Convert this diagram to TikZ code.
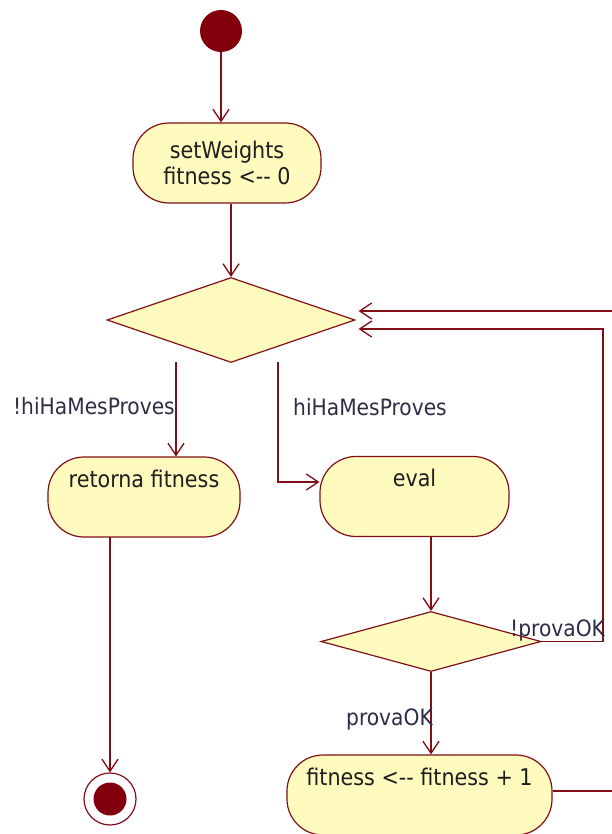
\documentclass[tikz,border=0pt]{standalone}
\usepackage{fontspec}
\setmainfont{DejaVu Sans Condensed}
\usetikzlibrary{shapes.geometric,arrows.meta,calc}
\definecolor{wire}{RGB}{128,16,24}
\definecolor{boxfill}{RGB}{255,250,190}
\definecolor{dotfill}{RGB}{130,0,12}
\definecolor{labelc}{RGB}{45,45,70}
\definecolor{inkc}{RGB}{30,30,30}
\begin{document}
\begin{tikzpicture}[x=1pt,y=-1pt,
  flow/.style={draw=wire,line width=1.3pt,-{Straight Barb[length=12pt,width=16pt]}},
  actbox/.style={draw=wire,line width=1.2pt,fill=boxfill,rounded corners=36pt,
    minimum height=80pt,inner sep=0pt,text=inkc,font=\fontsize{23}{26}\selectfont},
  onetext/.style={text height=15pt,text depth=35pt},
  choice/.style={diamond,draw=wire,line width=1.2pt,fill=boxfill,inner sep=0pt},
  guard/.style={text=labelc,font=\fontsize{22.5}{26}\selectfont,inner sep=0pt},
]
\clip (0,0) rectangle (612,834);
\fill[white] (0,0) rectangle (612,834);

% activity nodes
\node[circle,fill=dotfill,minimum size=42pt,inner sep=0pt] (start) at (221,31) {};
\node[actbox,minimum width=188pt,align=center] (setw) at (227,163)
  {setWeights\\fitness <-{}- 0};
\node[choice,minimum width=248pt,minimum height=85pt] (d1) at (231,320) {};
\node[actbox,onetext,minimum width=192pt] (ret) at (144,497) {retorna fitness};
\node[actbox,onetext,minimum width=189pt] (eval) at (414.5,496.5) {eval};
\node[choice,minimum width=220pt,minimum height=60pt] (d2) at (431,641.5) {};
\node[actbox,onetext,minimum width=265pt] (inc) at (419.5,795)
  {fitness <-{}- fitness + 1};
\node[circle,draw=wire,line width=1.2pt,fill=white,minimum size=52pt,inner sep=0pt] (end) at (110,799) {};
\node[circle,fill=dotfill,minimum size=33pt,inner sep=0pt] (endcore) at (end) {};

% branch points and loop corners
\coordinate (lfork) at (176,362);
\coordinate (rfork) at (278,362);
\coordinate (evalin) at ($(eval.west)+(0,-14.5)$);
\coordinate (retout) at (110,537);
\coordinate (loopA) at (603,329);
\coordinate (loopT) at (625,311);
\coordinate (d1inA) at ($(d1.east)+(3,-9)$);
\coordinate (d1inB) at ($(d1.east)+(3,9)$);
\coordinate (incout) at ($(inc.east)+(0,-4)$);

% connectors
\draw[flow] (start.south) -- (start.south |- setw.north);
\draw[flow] (d1.north |- setw.south) -- (d1.north);
\draw[flow] (lfork) -- (lfork |- ret.north);
\draw[flow] (rfork) |- (evalin);
\draw[flow] (retout) -- (end.north);
\draw[flow] (d2.north |- eval.south) -- (d2.north);
\draw[flow] (d2.south) -- (d2.south |- inc.north);
\draw[flow] (d2.east) -| (loopA) -- (d1inB);
\draw[flow] (incout) -| (loopT) -- (d1inA);

% guards
\node[guard,anchor=base east] (g1) at (175,414) {!hiHaMesProves};
\node[guard,anchor=base west] (g2) at (293,415) {hiHaMesProves};
\node[guard,anchor=base west] (g3) at (510,636) {!provaOK};
\node[guard,anchor=base east] (g4) at (433,725) {provaOK};
\end{tikzpicture}
\end{document}
